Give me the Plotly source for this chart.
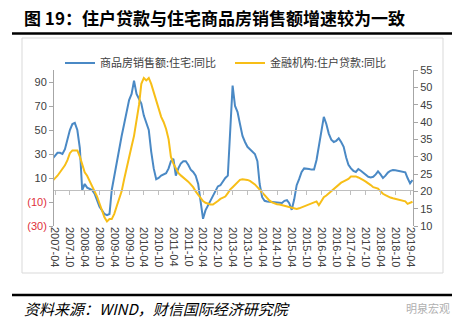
import pandas as pd
import plotly.graph_objects as go

# monthly observations, 2007-03 .. 2019-05
start_month = "2007-03-01"
n_months = 147
months = pd.date_range(start_month, periods=n_months, freq="MS")

sales_yoy = [  # 商品房销售额:住宅:同比 (left axis, %)
    26, 29, 31, 31, 30, 34, 43, 50, 55, 56,
    50, 35, 0, 5, 2, 1, 0, -3, -9, -14,
    -17, -20, -21, -20, 0, 12, 24, 35, 45, 55,
    66, 75, 80, 91, 80, 76, 72, 62, 55, 50,
    32, 18, 9, 10, 12, 13, 14, 18, 24, 26,
    12, 18, 22, 24, 24, 21, 17, 15, 12, 5,
    -10, -24, -17, -13, -9, -5, 0, 3, 4, 7,
    10, 12, 45, 87, 70, 65, 55, 45, 40, 36,
    34, 32, 30, 24, 5, -6, -9, -9.5, -9.7, -10,
    -10.2, -10.3, -10.5, -10.8, -9, -8.5, -11, -16.5, -8, 4,
    9, 15, 18, 18, 17.5, 17, 17, 25, 37, 50,
    61, 55, 47, 42, 40, 41, 43, 40, 36, 27,
    21, 18, 16, 15, 17.5, 16, 14.5, 13, 11, 10.5,
    11, 13, 15.5, 13, 10, 12, 14.5, 16, 16.7, 16.5,
    16, 15.8, 15, 14.7, 10, 5.5, 8.3,
]

loan_yoy = [  # 金融机构:住户贷款:同比 (right axis, %)
    23, 23.7, 24.5, 25.5, 26.5, 27.5, 29, 31, 31.8, 31.8,
    31.8, 30, 27.5, 25.5, 24.5, 23, 21.5, 20, 18.5, 16.5,
    14.5, 12.5, 11.3, 12, 12, 13.5, 15.7, 18, 20, 23.5,
    27, 30, 33, 36, 40, 45, 51, 52.7, 52, 52.7,
    51, 48.5, 46, 43.5, 41.5, 40, 38, 35, 30, 28,
    26.5, 25.3, 24.6, 24, 23.5, 22.8, 22, 21.2, 20, 19,
    18, 17.2, 16.7, 16.4, 16.2, 16.2, 16.6, 17.2, 17.8, 18.1,
    18.5, 19.5, 20.5, 21.2, 22, 22.8, 23.3, 23.5, 23.5, 23.3,
    23, 22.5, 22, 21.2, 20.5, 19.7, 18.8, 18, 17.3, 16.8,
    16.5, 16.3, 16.2, 16, 15.8, 15.7, 15.4, 15.2, 15, 14.9,
    15.1, 15.4, 15.7, 15.9, 16.2, 16.5, 16.8, 17.1, 16, 17.4,
    18.3, 18.8, 19.4, 20, 20.8, 21.4, 22, 22.5, 22.9, 23.2,
    23.6, 24.3, 24.4, 24.3, 24, 23.5, 23.2, 22.8, 22.4, 21.8,
    21.2, 21, 20.8, 20, 19.3, 18.9, 18.5, 18.2, 18, 17.8,
    17.6, 17.4, 17.3, 17.1, 16.4, 16.6, 17,
]

left_tickvals = [90, 70, 50, 30, 10, -10, -30]
left_ticktext = ["90", "70", "50", "30", "10",
                 "<span style='color:#e0303a'>(10)</span>",
                 "<span style='color:#e0303a'>(30)</span>"]
right_tickvals = [10, 15, 20, 25, 30, 35, 40, 45, 50, 55]

title_text = "图 19：住户贷款与住宅商品房销售额增速较为一致"
source_text = "资料来源：WIND，财信国际经济研究院"
series_names = ["商品房销售额:住宅:同比", "金融机构:住户贷款:同比"]

BLUE = "#4a89c5"
GOLD = "#f7be17"
TXT = "#404040"
AX = "#a6a6a6"

fig = go.Figure()
fig.add_trace(go.Scatter(x=months, y=sales_yoy, name=series_names[0], mode="lines",
                         line=dict(color=BLUE, width=2), yaxis="y", xaxis="x"))
fig.add_trace(go.Scatter(x=months, y=loan_yoy, name=series_names[1], mode="lines",
                         line=dict(color=GOLD, width=2), yaxis="y2", xaxis="x"))
# carrier for the bottom label axis
fig.add_trace(go.Scatter(x=months, y=[None] * n_months, xaxis="x2", yaxis="y",
                         showlegend=False, hoverinfo="skip", mode="lines"))

xr = ["2007-03-19", "2019-05-07"]
L, R, T, B = 54, 52, 70, 100
W, H = 465, 326
pw, ph = W - L - R, H - T - B
zero_pos = (0 - (-30)) / 130.0


def px(xp):
    return (xp - L) / pw


def py(yp):
    return (H - B - yp) / ph


fig.update_layout(
    width=W, height=H,
    margin=dict(l=L, r=R, t=T, b=B),
    paper_bgcolor="white", plot_bgcolor="white",
    font=dict(family="Liberation Sans, Noto Sans CJK SC", size=11, color=TXT),
    showlegend=True,
    legend=dict(orientation="h", x=px(60), xanchor="left", y=py(63), yanchor="middle",
                font=dict(family="Noto Sans CJK SC", size=11, color=TXT),
                entrywidth=125, entrywidthmode="pixels", itemwidth=30,
                bgcolor="rgba(0,0,0,0)", tracegroupgap=0),
    xaxis=dict(type="date", range=xr, anchor="free", position=zero_pos,
               showline=True, linecolor="#bfbfbf", linewidth=1,
               ticks="outside", ticklen=4, tickcolor="#bfbfbf",
               tick0="2007-04-01", dtick="M6", showticklabels=False,
               showgrid=False, zeroline=False),
    xaxis2=dict(type="date", range=xr, overlaying="x", anchor="y", side="bottom",
                tick0="2007-04-01", dtick="M6", tickformat="%Y-%m", tickangle=90,
                showline=False, ticks="", showgrid=False, zeroline=False,
                tickfont=dict(family="Liberation Sans", size=11, color=TXT)),
    yaxis=dict(range=[-30, 100], tickvals=left_tickvals, ticktext=left_ticktext,
               showline=True, linecolor=AX, linewidth=1, ticks="outside", ticklen=4,
               tickcolor=AX, showgrid=False, zeroline=False,
               tickfont=dict(family="Liberation Sans", size=11, color=TXT)),
    yaxis2=dict(range=[10, 55], tickvals=right_tickvals, overlaying="y", side="right",
                showline=True, linecolor=AX, linewidth=1, ticks="outside", ticklen=4,
                tickcolor=AX, showgrid=False, zeroline=False,
                tickfont=dict(family="Liberation Sans", size=11, color=TXT)),
)

shapes = [
    dict(type="rect", xref="paper", yref="paper", x0=px(22), x1=px(443), y0=py(273), y1=py(38),
         line=dict(color="#d9d9d9", width=1), layer="below"),
    dict(type="line", xref="paper", yref="paper", x0=px(12), x1=px(452), y0=py(33.5), y1=py(33.5),
         line=dict(color="black", width=2.5)),
    dict(type="line", xref="paper", yref="paper", x0=px(12), x1=px(452), y0=py(295), y1=py(295),
         line=dict(color="black", width=2.5)),
]
fig.update_layout(shapes=shapes)

fig.add_annotation(text="<b>" + title_text + "</b>", xref="paper", yref="paper",
                   x=px(22), y=py(17), xanchor="left", yanchor="middle", showarrow=False,
                   font=dict(family="Noto Sans CJK SC", size=17, color="black"))
fig.add_annotation(text="<i>" + source_text + "</i>", xref="paper", yref="paper",
                   x=px(22), y=py(308), xanchor="left", yanchor="middle", showarrow=False,
                   font=dict(family="Noto Sans CJK SC", size=15, color="black"))
fig.add_annotation(text="明泉宏观", xref="paper", yref="paper",
                   x=px(452), y=py(308), xanchor="right", yanchor="middle", showarrow=False,
                   font=dict(family="Noto Sans CJK SC", size=11, color="#b0b0b0"))

fig.write_html("out.html")
